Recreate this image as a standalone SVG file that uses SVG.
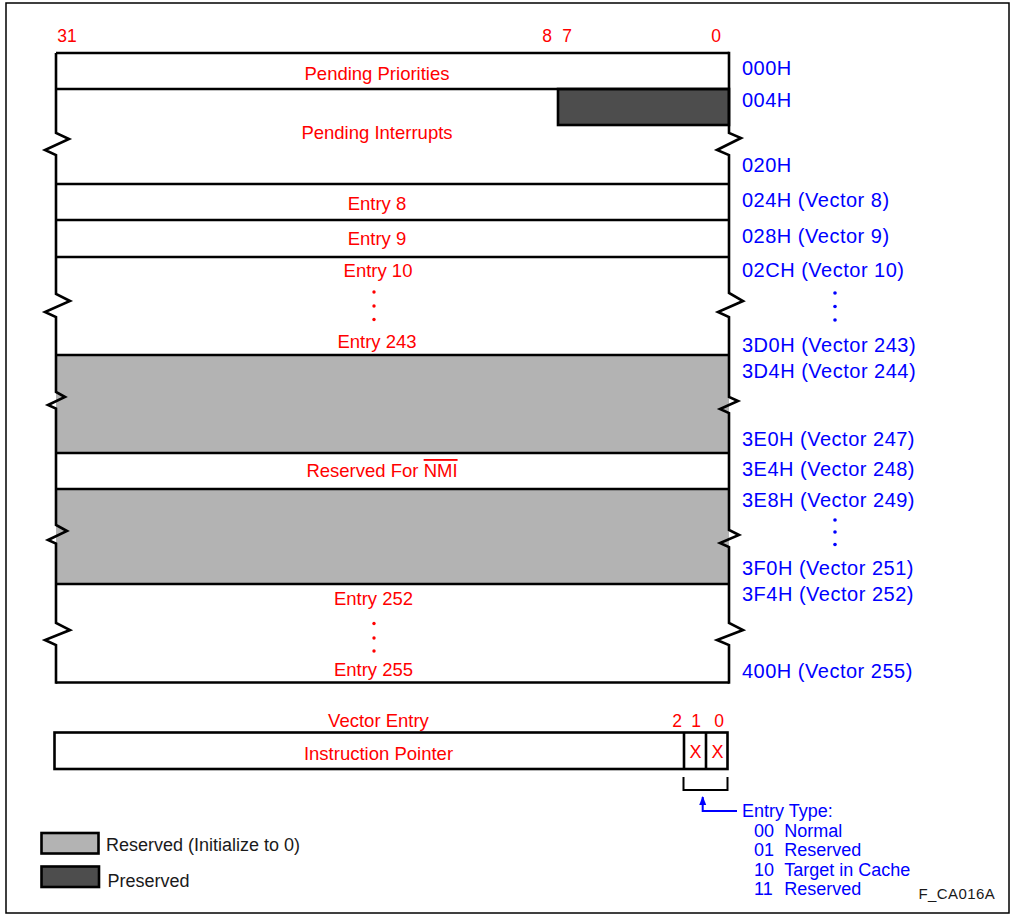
<svg xmlns="http://www.w3.org/2000/svg" width="1013" height="917" viewBox="0 0 1013 917">
<defs>
<style>
.ln{stroke:#000;stroke-width:2.6;fill:none}
.thin{stroke:#000;stroke-width:2;fill:none}
.gray{fill:#b3b3b3}
.dark{fill:#4d4d4d;stroke:#000;stroke-width:2.6}
.r{font-family:"Liberation Sans",Arial,sans-serif;font-size:18.5px;fill:#ff0000;text-anchor:middle}
.bit{font-family:"Liberation Sans",Arial,sans-serif;font-size:17.5px;fill:#ff0000;text-anchor:middle}
.b{font-family:"Liberation Sans",Arial,sans-serif;font-size:20px;fill:#0000ff;letter-spacing:0.5px}
.bt{font-family:"Liberation Sans",Arial,sans-serif;font-size:18px;fill:#0000ff}
.k{font-family:"Liberation Sans",Arial,sans-serif;font-size:18px;fill:#1a1a1a}
.rd{fill:#ff0000}
.bd{fill:#0000ff}
</style>
<marker id="ah" markerWidth="9" markerHeight="10" refX="8" refY="3.5" orient="auto" markerUnits="userSpaceOnUse">
<path d="M0,0 L9,3.5 L0,7 Z" fill="#0000ff"/>
</marker>
</defs>
<rect x="0" y="0" width="1013" height="917" fill="#fff"/>
<rect x="6" y="3" width="1003" height="910" fill="none" stroke="#000" stroke-width="1.5"/>

<g id="bit-labels">
<text class="bit" x="67" y="42">31</text>
<text class="bit" x="547" y="42">8</text>
<text class="bit" x="567" y="42">7</text>
<text class="bit" x="716" y="42">0</text>
</g>

<g id="gray-fills">
<rect class="gray" x="56" y="355" width="673" height="98"/>
<rect class="gray" x="56" y="489" width="673" height="95"/>
</g>

<g id="pending-priorities">
<text class="r" x="377" y="80">Pending Priorities</text>
<text class="b" x="742" y="75">000H</text>
</g>

<g id="pending-interrupts">
<rect class="dark" x="558" y="89" width="171" height="36"/>
<text class="r" x="377" y="139">Pending Interrupts</text>
<text class="b" x="742" y="107">004H</text>
<text class="b" x="742" y="172">020H</text>
</g>

<g id="entry-8">
<text class="r" x="377" y="210">Entry 8</text>
<text class="b" x="742" y="207">024H (Vector 8)</text>
</g>

<g id="entry-9">
<text class="r" x="377" y="245">Entry 9</text>
<text class="b" x="742" y="243">028H (Vector 9)</text>
</g>

<g id="entry-10-243">
<text class="r" x="378" y="277">Entry 10</text>
<circle class="rd" cx="374" cy="292" r="1.7"/>
<circle class="rd" cx="374" cy="306" r="1.7"/>
<circle class="rd" cx="374" cy="319.5" r="1.7"/>
<text class="r" x="377" y="347.5">Entry 243</text>
<text class="b" x="742" y="277">02CH (Vector 10)</text>
<circle class="bd" cx="835" cy="293" r="1.8"/>
<circle class="bd" cx="835" cy="306.5" r="1.8"/>
<circle class="bd" cx="835" cy="320" r="1.8"/>
<text class="b" x="742" y="352">3D0H (Vector 243)</text>
</g>

<g id="reserved-244-247">
<text class="b" x="742" y="378">3D4H (Vector 244)</text>
<text class="b" x="742" y="445.5">3E0H (Vector 247)</text>
</g>

<g id="reserved-nmi">
<text class="r" x="382" y="477">Reserved For <tspan text-decoration="overline">NMI</tspan></text>
<text class="b" x="742" y="476">3E4H (Vector 248)</text>
</g>

<g id="reserved-249-251">
<text class="b" x="742" y="507">3E8H (Vector 249)</text>
<circle class="bd" cx="835" cy="520" r="1.8"/>
<circle class="bd" cx="835" cy="532" r="1.8"/>
<circle class="bd" cx="835" cy="544.5" r="1.8"/>
<text class="b" x="742" y="575">3F0H (Vector 251)</text>
</g>

<g id="entry-252-255">
<text class="r" x="373.5" y="605">Entry 252</text>
<circle class="rd" cx="374" cy="623.5" r="1.7"/>
<circle class="rd" cx="374" cy="638" r="1.7"/>
<circle class="rd" cx="374" cy="651" r="1.7"/>
<text class="r" x="373.5" y="676">Entry 255</text>
<text class="b" x="742" y="601">3F4H (Vector 252)</text>
<text class="b" x="742" y="678">400H (Vector 255)</text>
</g>

<g id="table-lines">
<path class="ln" d="M56,53 H729 M56,89 H729 M56,184 H729 M56,220 H729 M56,257 H729 M56,355 H729 M56,453 H729 M56,489 H729 M56,584 H729 M56,682.5 H729"/>
<path class="ln" d="M56,53 V133 L69,139 L45,150 L56,155 V294 L70,301 L45,312 L56,317 V392 L65,397 L48,405 L56,408.5 V525 L67,531 L48,540 L56,543.5 V623 L70,630 L45,640 L56,645 V683.8"/>
<path class="ln" d="M729,51.7 V133 L741,138 L717,150 L729,155 V293 L743,301 L718,312 L729,317 V397 L738,401 L720,409 L729,413 V530 L739,535 L720,543 L729,547 V623 L743,630 L717,640 L729,645 V683.8"/>
</g>

<g id="vector-entry">
<text class="r" x="378.5" y="727">Vector Entry</text>
<text class="bit" x="677" y="727">2</text>
<text class="bit" x="696" y="727">1</text>
<text class="bit" x="719" y="727">0</text>
<rect class="ln" x="54.5" y="732.5" width="673" height="36.5" fill="#fff"/>
<path class="ln" d="M684,732.5 V769 M706,732.5 V769"/>
<text class="r" x="378.5" y="760">Instruction Pointer</text>
<text class="bit" x="695.5" y="757.5" style="font-size:18px">X</text>
<text class="bit" x="717.5" y="757.5" style="font-size:18px">X</text>
<path class="thin" d="M683.5,777 V790 H727.5 V777"/>
</g>

<g id="connectors">
<path d="M737,811 H702.7 V797" fill="none" stroke="#0000ff" stroke-width="2" marker-end="url(#ah)"/>
</g>

<g id="entry-type">
<text class="bt" x="742" y="817">Entry Type:</text>
<text class="bt" x="754" y="837">00</text><text class="bt" x="784.3" y="837">Normal</text>
<text class="bt" x="754" y="856">01</text><text class="bt" x="784.3" y="856">Reserved</text>
<text class="bt" x="754" y="875.5">10</text><text class="bt" x="784.3" y="875.5">Target in Cache</text>
<text class="bt" x="754" y="895">11</text><text class="bt" x="784.3" y="895">Reserved</text>
</g>

<g id="legend">
<rect x="41.5" y="833" width="57" height="20.5" fill="#b3b3b3" stroke="#000" stroke-width="2.6"/>
<text class="k" x="106" y="851">Reserved (Initialize to 0)</text>
<rect x="41.5" y="866.5" width="57.5" height="20.5" fill="#4d4d4d" stroke="#000" stroke-width="2.6"/>
<text class="k" x="107.5" y="887">Preserved</text>
</g>

<g id="figure-id">
<text x="918.5" y="898.5" font-family="Liberation Sans, Arial, sans-serif" font-size="15" letter-spacing="0.4" fill="#1a1a1a">F_CA016A</text>
</g>
</svg>
